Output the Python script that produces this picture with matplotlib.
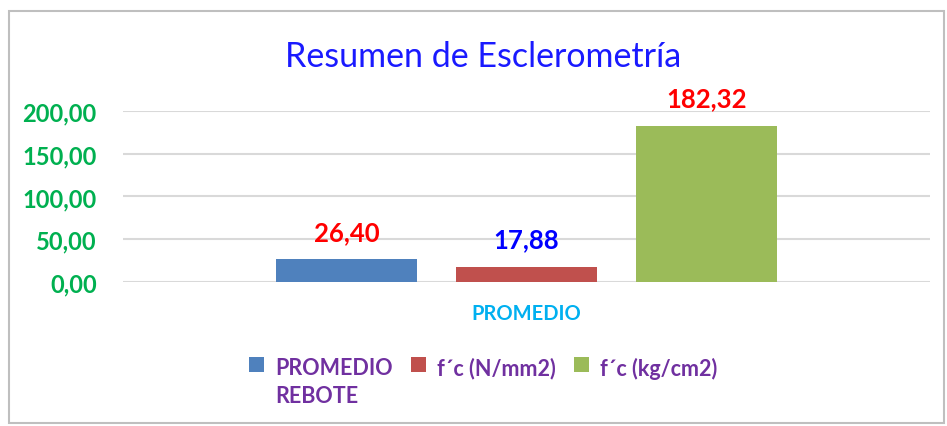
import matplotlib.pyplot as plt
from matplotlib.patches import Rectangle, Patch

# datos
categoria = "PROMEDIO"
series = ["PROMEDIO\nREBOTE", "f´c (N/mm2)", "f´c (kg/cm2)"]
valores = [26.40, 17.88, 182.32]
colores = ["#4f81bd", "#c0504d", "#9bbb59"]
colores_etiq = ["#ff0000", "#0000ff", "#ff0000"]
yticks = [0, 50, 100, 150, 200]

plt.rcParams['font.family'] = ['Lato', 'DejaVu Sans']

fig = plt.figure(figsize=(9.47, 4.27), dpi=100)
ax = fig.add_axes([0.130, 0.337, 0.852, 0.401])

# borde del grafico
fig.patches.append(Rectangle((0.009, 0.006), 0.988, 0.966, transform=fig.transFigure,
                             fill=False, edgecolor="#bfbfbf", linewidth=1.5))

ancho = 0.175
paso = 0.223
for i, v in enumerate(valores):
    x = (i - 1) * paso
    ax.bar(x, v, width=ancho, color=colores[i], zorder=3)
    ax.annotate(f"{v:.2f}".replace(".", ","), (x, v), xytext=(0, 20),
                textcoords="offset points", ha="center", va="center",
                fontsize=18.5, fontweight="bold", color=colores_etiq[i])

ax.set_xlim(-0.5, 0.5)
ax.set_ylim(0, 200)
ax.set_yticks(yticks)
ax.set_yticklabels([f"{t:.2f}".replace(".", ",") for t in yticks],
                   color="#00b050", fontsize=17, fontweight="bold")
ax.tick_params(axis="y", length=0, pad=19)
ax.set_xticks([0])
ax.set_xticklabels([categoria], color="#00b0f0", fontsize=14.5, fontweight="bold")
ax.tick_params(axis="x", length=0, pad=15)
ax.grid(axis="y", color="#d9d9d9", linewidth=1.5, zorder=0)
ax.set_axisbelow(True)
for s in ax.spines.values():
    s.set_visible(False)

fig.text(0.51, 0.866, "Resumen de Esclerometría", color="#1a1aff", fontsize=24.5,
         ha="center", va="center")

handles = [Patch(facecolor=c) for c in colores]
leg = fig.legend(handles, series, loc="upper left", bbox_to_anchor=(0.263, 0.162),
                 ncol=3, frameon=False, handlelength=0.7, handleheight=0.7,
                 handletextpad=0.5, columnspacing=0.85, borderpad=0, borderaxespad=0,
                 prop={"size": 15.5, "weight": "bold"})
for t in leg.get_texts():
    t.set_color("#7030a0")
    t.set_linespacing(1.4)
# cuadro alineado con la primera linea del texto
leg._legend_handle_box.align = "top"
for col in leg._legend_handle_box.get_children():
    for item in col.get_children():
        item.align = "top"

fig.savefig("out.png", dpi=100)
